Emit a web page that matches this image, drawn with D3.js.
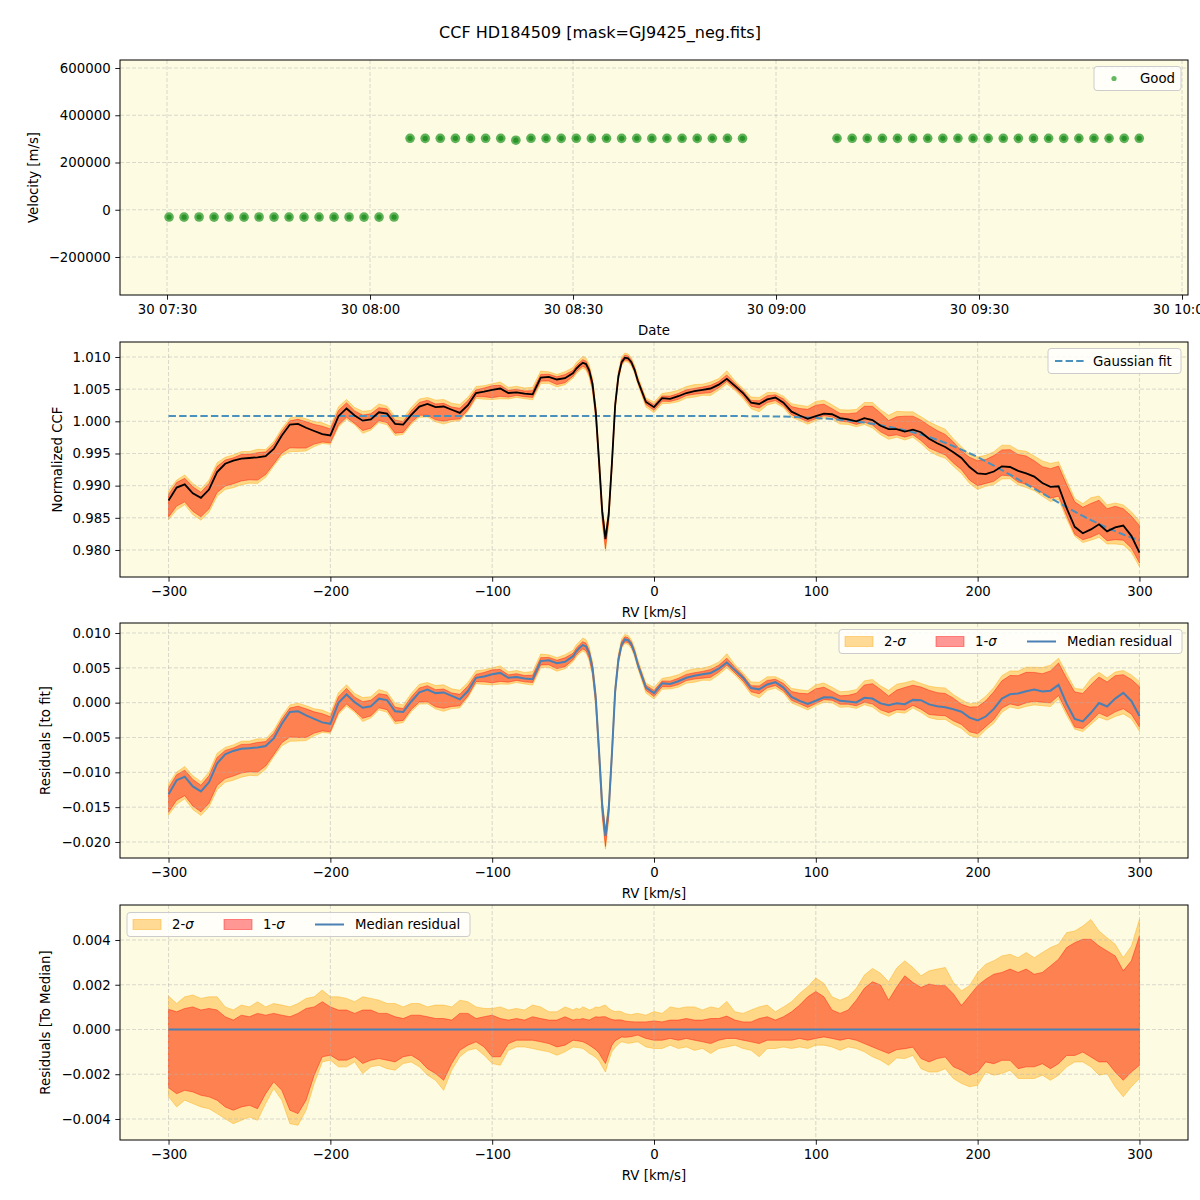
<!DOCTYPE html>
<html>
<head>
<meta charset="utf-8">
<script src="https://cdn.jsdelivr.net/npm/d3@7"></script>
<style>
  body { margin: 0; background: #fff; }
</style>
</head>
<body>
<script>
// ---------- data ----------

// panel 1: radial velocity per exposure
const obsDay = "2021-07-30";
const obsTimes = [
  "07:30:18","07:32:31","07:34:44","07:36:57","07:39:10","07:41:23","07:43:36","07:45:49",
  "07:48:02","07:50:15","07:52:28","07:54:41","07:56:54","07:59:07","08:01:20","08:03:33",
  "08:05:55","08:08:09","08:10:23","08:12:37","08:14:51","08:17:05","08:19:19","08:21:33",
  "08:23:47","08:26:01","08:28:15","08:30:29","08:32:43","08:34:57","08:37:11","08:39:25",
  "08:41:39","08:43:53","08:46:07","08:48:21","08:50:35","08:52:49","08:55:03",
  "09:09:01","09:11:15","09:13:29","09:15:43","09:17:57","09:20:11","09:22:25","09:24:39",
  "09:26:53","09:29:07","09:31:21","09:33:35","09:35:49","09:38:03","09:40:17","09:42:31",
  "09:44:45","09:46:59","09:49:13","09:51:27","09:53:41"
];
const velocities = [
  -30800,-31200,-30600,-31000,-30900,-31300,-30700,-31100,
  -30900,-31000,-30800,-31200,-30700,-31000,-31100,-30900,
  302400,302100,302600,302300,302000,302500,302200,294500,
  302400,302100,302300,302600,302000,302400,302200,302500,
  302100,302300,302400,302000,302200,302500,302300,
  302200,302400,302100,302500,302300,302000,302400,302200,
  302600,302100,302300,302400,302200,302000,302500,302300,
  302100,302400,302200,302300,302500
];
const timeTicks = ["07:30","08:00","08:30","09:00","09:30","10:00"];
const velTicks = [-200000, 0, 200000, 400000, 600000];

// panels 2-4: CCF on a radial-velocity grid [km/s]
const rv = [
  -300,-295,-290,-285,-280,-275,-270,-265,-260,-255,-250,-245,-240,-235,-230,-225,-220,-215,-210,-205,
  -200,-195,-190,-185,-180,-175,-170,-165,-160,-155,-150,-145,-140,-135,-130,-125,-120,-115,-110,-105,
  -100,-95,-90,-85,-80,-75,-70,-65,-60,-55,-50,
  -48,-46,-44,-42,-40,-38,-36,-34,-32,-30,-28,-26,-24,-22,-20,-18,-16,-14,-12,-10,
  -5,0,5,10,15,20,25,30,35,40,45,50,55,60,65,70,75,80,85,90,95,
  100,105,110,115,120,125,130,135,140,145,150,155,160,165,170,175,180,185,190,195,
  200,205,210,215,220,225,230,235,240,245,250,255,260,265,270,275,280,285,290,295,300
];
const ccfMedian = [
  0.9877,0.9897,0.9902,0.9888,0.9881,0.9894,0.9921,0.9934,0.9939,0.9942,0.9943,0.9944,0.9946,0.9957,0.9978,0.9995,0.9996,0.9990,0.9985,0.9980,
  0.9978,1.0008,1.0020,1.0009,1.0001,1.0003,1.0014,1.0012,0.9996,0.9995,1.0010,1.0023,1.0027,1.0022,1.0023,1.0018,1.0013,1.0025,1.0044,1.0046,
  1.0049,1.0051,1.0044,1.0045,1.0043,1.0042,1.0068,1.0069,1.0065,1.0067,1.0075,
  1.0082,1.0087,1.0091,1.0089,1.0079,1.0058,1.0015,0.9940,0.9860,0.9817,0.9855,0.9935,1.0025,1.0070,1.0092,1.0099,1.0098,1.0092,1.0080,1.0063,
  1.0030,1.0022,1.0036,1.0035,1.0039,1.0044,1.0047,1.0049,1.0051,1.0057,1.0066,1.0055,1.0044,1.0029,1.0027,1.0034,1.0037,1.0029,1.0015,1.0009,1.0004,
  1.0008,1.0012,1.0011,1.0005,1.0003,1.0000,1.0005,1.0002,0.9993,0.9988,0.9988,0.9984,0.9987,0.9983,0.9973,0.9966,0.9960,0.9952,0.9943,0.9929,
  0.9919,0.9918,0.9922,0.9930,0.9929,0.9923,0.9919,0.9914,0.9904,0.9898,0.9899,0.9865,0.9836,0.9826,0.9832,0.9840,0.9829,0.9835,0.9838,0.9822,0.9796
];
const gaussFit = [
  1.00083,1.00083,1.00083,1.00083,1.00083,1.00083,1.00083,1.00083,1.00083,1.00083,1.00083,1.00083,1.00083,1.00083,1.00083,1.00083,1.00083,1.00083,1.00083,1.00083,
  1.00083,1.00083,1.00083,1.00083,1.00083,1.00083,1.00083,1.00083,1.00083,1.00083,1.00083,1.00083,1.00083,1.00083,1.00083,1.00083,1.00083,1.00083,1.00083,1.00083,
  1.00083,1.00083,1.00083,1.00083,1.00083,1.00083,1.00083,1.00083,1.00083,1.00083,1.00083,
  1.00083,1.00083,1.00083,1.00083,1.00083,1.00083,1.00083,1.00083,1.00083,1.00083,1.00083,1.00083,1.00083,1.00083,1.00083,1.00083,1.00083,1.00083,1.00083,1.00083,
  1.00083,1.00083,1.00083,1.00083,1.00083,1.00083,1.00083,1.00083,1.00083,1.00083,1.00083,1.00083,1.00081,1.00080,1.00079,1.00078,1.00076,1.00073,1.00069,1.00065,1.00059,
  1.00052,1.00044,1.00035,1.00024,1.00012,0.99997,0.99980,0.99961,0.99940,0.99916,0.99890,0.99861,0.99830,0.99794,0.99755,0.99712,0.99665,0.99614,0.99560,0.99504,
  0.99445,0.99379,0.99310,0.99241,0.99170,0.99098,0.99025,0.98953,0.98880,0.98808,0.98735,0.98665,0.98595,0.98530,0.98465,0.98405,0.98345,0.98292,0.98240,0.98195,0.98150
];
// band edges relative to the median, in units of 1e-3
const hi2 = [
  1.5,1.16,1.46,1.54,1.39,1.46,1.46,1.01,0.87,1.09,1.01,1.24,1.01,1.16,1.09,1.01,1.16,1.39,1.46,1.76,
  1.46,1.46,1.39,1.24,1.46,1.39,1.31,1.16,1.16,1.01,1.16,1.16,1.01,1.09,1.09,1.01,1.31,1.24,1.01,0.94,
  0.94,1.01,0.87,0.94,0.87,1.09,1.01,0.79,0.79,1.01,0.87,
  0.95,0.90,1.01,0.95,0.87,0.92,1.01,0.98,1.05,1.09,0.95,0.85,0.80,0.82,0.79,0.72,0.68,0.66,0.70,0.72,
  0.64,0.80,0.72,1.01,0.94,1.01,1.01,0.87,1.01,0.94,1.25,0.79,0.72,0.87,1.01,1.09,0.79,1.01,1.24,1.61,1.91,
  2.30,2.06,1.46,1.31,1.46,1.84,2.43,2.73,2.51,2.13,2.75,3.07,2.77,2.40,2.62,2.70,2.77,2.10,1.73,1.96,
  2.55,2.92,3.07,3.29,3.36,3.21,3.44,3.21,3.44,3.66,3.81,4.33,4.40,4.62,4.92,4.40,4.10,3.81,3.21,3.73,4.92
];
const hi1 = [
  0.9,0.79,0.94,1.01,0.87,0.94,0.87,0.57,0.42,0.64,0.57,0.72,0.64,0.72,0.64,0.57,0.72,0.94,1.01,1.24,
  1.01,0.87,0.87,0.72,0.87,0.87,0.72,0.72,0.57,0.49,0.64,0.64,0.57,0.49,0.49,0.42,0.72,0.72,0.49,0.57,
  0.64,0.49,0.42,0.49,0.42,0.57,0.49,0.42,0.42,0.57,0.42,
  0.46,0.45,0.49,0.45,0.42,0.50,0.57,0.55,0.57,0.57,0.50,0.45,0.42,0.43,0.42,0.38,0.36,0.35,0.34,0.34,
  0.34,0.38,0.34,0.42,0.42,0.49,0.42,0.42,0.49,0.49,0.60,0.42,0.34,0.34,0.49,0.57,0.42,0.57,0.79,1.09,1.46,
  1.70,1.46,0.87,0.72,0.87,1.31,1.84,2.13,1.99,1.31,1.90,2.40,2.10,1.88,2.03,1.96,1.96,1.59,1.07,1.51,
  1.96,2.25,2.47,2.55,2.70,2.55,2.70,2.47,2.55,2.84,3.14,3.66,3.88,4.03,4.03,3.73,3.51,3.29,2.62,3.07,4.18
];
const lo1 = [
  -2.6,-2.87,-2.72,-2.79,-2.94,-3.01,-3.16,-3.46,-3.61,-3.46,-3.39,-3.54,-2.87,-2.34,-2.72,-3.61,-3.76,-3.16,-2.04,-1.22,
  -1.15,-1.37,-1.37,-1.22,-1.52,-1.37,-1.30,-1.37,-1.45,-1.22,-1.15,-1.37,-1.75,-1.97,-2.27,-1.52,-0.93,-0.70,-0.55,-0.78,
  -1.22,-1.22,-0.63,-0.48,-0.48,-0.48,-0.55,-0.63,-0.78,-0.70,-0.48,
  -0.50,-0.52,-0.55,-0.62,-0.70,-0.80,-0.90,-1.05,-1.30,-1.52,-1.10,-0.70,-0.50,-0.42,-0.33,-0.35,-0.34,-0.32,-0.28,-0.25,
  -0.40,-0.48,-0.48,-0.40,-0.48,-0.40,-0.48,-0.55,-0.63,-0.48,-0.40,-0.40,-0.48,-0.55,-0.63,-0.48,-0.48,-0.48,-0.48,-0.40,-0.48,
  -0.40,-0.33,-0.40,-0.48,-0.40,-0.48,-0.63,-0.78,-0.93,-1.07,-0.90,-0.86,-0.79,-1.30,-1.45,-1.30,-1.23,-1.67,-1.82,-2.04,
  -1.90,-1.45,-1.53,-1.38,-1.38,-1.75,-1.67,-1.67,-1.53,-1.75,-1.53,-1.16,-1.16,-1.01,-1.23,-1.45,-1.45,-1.90,-2.27,-1.90,-1.60
];
const lo2 = [
  -3.0,-3.46,-3.16,-3.31,-3.46,-3.54,-3.76,-3.99,-4.21,-4.06,-3.91,-4.06,-3.31,-2.64,-3.16,-4.21,-4.28,-3.61,-2.42,-1.45,
  -1.37,-1.67,-1.67,-1.45,-1.97,-1.67,-1.60,-1.75,-1.82,-1.52,-1.45,-1.67,-2.04,-2.27,-2.72,-1.82,-1.22,-0.93,-0.85,-1.15,
  -1.52,-1.60,-0.93,-0.78,-0.78,-0.85,-0.93,-1.00,-1.15,-1.00,-0.78,
  -0.80,-0.82,-0.85,-0.95,-1.07,-1.15,-1.25,-1.40,-1.65,-1.90,-1.40,-1.00,-0.80,-0.65,-0.55,-0.58,-0.62,-0.60,-0.57,-0.55,
  -0.78,-0.85,-0.85,-0.70,-0.85,-0.78,-0.93,-0.85,-1.07,-0.85,-0.78,-0.70,-0.85,-0.93,-1.22,-0.85,-0.85,-0.78,-0.85,-0.78,-0.85,
  -0.70,-0.70,-0.78,-0.93,-0.78,-0.85,-1.00,-1.22,-1.37,-1.60,-1.27,-1.30,-1.16,-1.75,-1.90,-1.90,-1.75,-2.19,-2.41,-2.56,
  -2.49,-1.90,-2.04,-1.97,-1.82,-2.19,-2.19,-2.19,-2.04,-2.27,-2.04,-1.67,-1.45,-1.45,-1.67,-2.04,-1.97,-2.56,-3.01,-2.56,-2.19
];
const rvTicks = [-300, -200, -100, 0, 100, 200, 300];
const ccfTicks = [0.980, 0.985, 0.990, 0.995, 1.000, 1.005, 1.010];
const resTicks = [-0.020, -0.015, -0.010, -0.005, 0.000, 0.005, 0.010];
const medTicks = [-0.004, -0.002, 0.000, 0.002, 0.004];

// ---------- layout ----------
const L = 120, R = 1188, W = R - L, H = 235;
const tops = [60, 342, 623, 905];
const BG = "#fdfbe1";
const FONT = "DejaVu Sans, sans-serif";
const ORANGE = "orange", RED = "red";
const LINE_BLUE = "#4a80b4", FIT_BLUE = "#4b91bd";

const svg = d3.select("body").append("svg")
  .attr("width", 1200).attr("height", 1200)
  .style("background", "#fff")
  .attr("font-family", FONT);

function panel(top) {
  const g = svg.append("g").attr("transform", `translate(${L},${top})`);
  g.append("rect").attr("width", W).attr("height", H).attr("fill", BG);
  return { g, fills: g.append("g"), grid: g.append("g"), lines: g.append("g"), front: g.append("g") };
}

function gridAndAxes(p, x, y, xTicks, yTicks, xFmt, yFmt) {
  p.grid.selectAll("line.v").data(xTicks).join("line").attr("class", "v")
    .attr("x1", d => x(d)).attr("x2", d => x(d)).attr("y1", 0).attr("y2", H);
  p.grid.selectAll("line.h").data(yTicks).join("line").attr("class", "h")
    .attr("x1", 0).attr("x2", W).attr("y1", d => y(d)).attr("y2", d => y(d));
  p.grid.selectAll("line")
    .attr("stroke", "#b0b0b0").attr("stroke-opacity", 0.6)
    .attr("stroke-width", 0.8).attr("stroke-dasharray", "4,2");

  const ax = p.front.append("g").attr("transform", `translate(0,${H})`)
    .call(d3.axisBottom(x).tickValues(xTicks).tickFormat(xFmt).tickSize(4.7).tickPadding(4.7).tickSizeOuter(0));
  const ay = p.front.append("g")
    .call(d3.axisLeft(y).tickValues(yTicks).tickFormat(yFmt).tickSize(4.7).tickPadding(4.7).tickSizeOuter(0));
  [ax, ay].forEach(a => {
    a.select(".domain").remove();
    a.attr("font-family", FONT).attr("font-size", 13.3);
    a.selectAll("line").attr("stroke-width", 0.9);
  });
  p.front.append("rect").attr("width", W).attr("height", H)
    .attr("fill", "none").attr("stroke", "#000").attr("stroke-width", 1);
}

function labels(top, xLabel, yLabel, yLabelX) {
  svg.append("text").attr("x", L + W / 2).attr("y", top + H + 35).attr("dy", "0.35em")
    .attr("text-anchor", "middle").attr("font-size", 13.3).text(xLabel);
  svg.append("text")
    .attr("transform", `translate(${yLabelX},${top + H / 2}) rotate(-90)`)
    .attr("dy", "0.35em").attr("text-anchor", "middle").attr("font-size", 13.3).text(yLabel);
}

function legendBox(p, x0, y0, w, h) {
  p.front.append("rect").attr("x", x0).attr("y", y0).attr("width", w).attr("height", h).attr("rx", 3)
    .attr("fill", "#fff").attr("fill-opacity", 0.8).attr("stroke", "#cccccc").attr("stroke-width", 1);
}

function sigmaLegend(p, x0, y0) {
  legendBox(p, x0, y0, 343, 24);
  const cy = y0 + 12;
  [[ORANGE, "2-", 0], [RED, "1-", 91]].forEach(([c, lab, dx]) => {
    p.front.append("rect").attr("x", x0 + 6 + dx).attr("y", cy - 5).attr("width", 28).attr("height", 10)
      .attr("fill", c).attr("fill-opacity", 0.4).attr("stroke", c).attr("stroke-opacity", 0.4);
    const t = p.front.append("text").attr("x", x0 + 45 + dx).attr("y", cy).attr("dy", "0.35em")
      .attr("font-size", 13.3);
    t.append("tspan").text(lab);
    t.append("tspan").attr("font-style", "italic").text("σ");
  });
  p.front.append("line").attr("x1", x0 + 188).attr("x2", x0 + 217).attr("y1", cy).attr("y2", cy)
    .attr("stroke", LINE_BLUE).attr("stroke-width", 2);
  p.front.append("text").attr("x", x0 + 228).attr("y", cy).attr("dy", "0.35em")
    .attr("font-size", 13.3).text("Median residual");
}

function bands(p, x, y, base) {
  const a = (lo, hi) => d3.area()
    .x((d, i) => x(rv[i]))
    .y0((d, i) => y(base[i] + lo[i] * 1e-3))
    .y1((d, i) => y(base[i] + hi[i] * 1e-3));
  p.fills.append("path").datum(rv).attr("d", a(lo2, hi2))
    .attr("fill", ORANGE).attr("fill-opacity", 0.4)
    .attr("stroke", ORANGE).attr("stroke-opacity", 0.4).attr("stroke-width", 1);
  p.fills.append("path").datum(rv).attr("d", a(lo1, hi1))
    .attr("fill", RED).attr("fill-opacity", 0.4)
    .attr("stroke", RED).attr("stroke-opacity", 0.4).attr("stroke-width", 1);
}

// title
svg.append("text").attr("x", 600).attr("y", 32).attr("dy", "0.35em").attr("text-anchor", "middle")
  .attr("font-size", 16).text("CCF HD184509 [mask=GJ9425_neg.fits]");

// ---------- panel 1: velocities ----------
const parseT = d3.timeParse("%Y-%m-%d %H:%M:%S");
const parseM = d3.timeParse("%Y-%m-%d %H:%M");
const p1 = panel(tops[0]);
const xT = d3.scaleTime()
  .domain([parseT(obsDay + " 07:23:03"), parseT(obsDay + " 10:00:53")]).range([0, W]);
const yV = d3.scaleLinear().domain([-360800, 633900]).range([H, 0]);
gridAndAxes(p1, xT, yV, timeTicks.map(t => parseM(obsDay + " " + t)), velTicks,
  d3.timeFormat("%d %H:%M"), d3.format("d"));
const pts = obsTimes.map((t, i) => ({ t: parseT(obsDay + " " + t), v: velocities[i] }));
p1.lines.selectAll("circle.o").data(pts).join("circle").attr("class", "o")
  .attr("cx", d => xT(d.t)).attr("cy", d => yV(d.v)).attr("r", 4.8)
  .attr("fill", "rgb(95,178,88)");
p1.lines.selectAll("circle.c").data(pts).join("circle").attr("class", "c")
  .attr("cx", d => xT(d.t)).attr("cy", d => yV(d.v)).attr("r", 2.6)
  .attr("fill", "rgb(42,148,40)");
legendBox(p1, W - 94, 6.5, 87, 24);
p1.front.append("circle").attr("cx", W - 74).attr("cy", 18.5).attr("r", 2.6).attr("fill", "rgb(100,185,95)");
p1.front.append("text").attr("x", W - 48).attr("y", 18.5).attr("dy", "0.35em").attr("font-size", 13.3).text("Good");
labels(tops[0], "Date", "Velocity [m/s]", 33);

// ---------- panel 2: normalized CCF ----------
const xRV = d3.scaleLinear().domain([-330, 330]).range([0, W]);
const p2 = panel(tops[1]);
const yC = d3.scaleLinear().domain([0.97580, 1.01233]).range([H, 0]);
bands(p2, xRV, yC, ccfMedian);
gridAndAxes(p2, xRV, yC, rvTicks, ccfTicks, d3.format("d"), d3.format(".3f"));
p2.lines.append("path").datum(rv)
  .attr("d", d3.line().x((d, i) => xRV(rv[i])).y((d, i) => yC(gaussFit[i])))
  .attr("fill", "none").attr("stroke", FIT_BLUE).attr("stroke-width", 2).attr("stroke-dasharray", "7.4,3.2");
p2.lines.append("path").datum(rv)
  .attr("d", d3.line().x((d, i) => xRV(rv[i])).y((d, i) => yC(ccfMedian[i])))
  .attr("fill", "none").attr("stroke", "#000").attr("stroke-width", 1.8);
legendBox(p2, W - 140, 6.5, 133, 25);
p2.front.append("line").attr("x1", W - 133).attr("x2", W - 104).attr("y1", 19).attr("y2", 19)
  .attr("stroke", FIT_BLUE).attr("stroke-width", 2).attr("stroke-dasharray", "7.4,3.2");
p2.front.append("text").attr("x", W - 95).attr("y", 19).attr("dy", "0.35em").attr("font-size", 13.3).text("Gaussian fit");
labels(tops[1], "RV [km/s]", "Normalized CCF", 57);

// ---------- panel 3: residuals to fit ----------
const residual = ccfMedian.map((v, i) => v - gaussFit[i]);
const p3 = panel(tops[2]);
const yR = d3.scaleLinear().domain([-0.022297, 0.011435]).range([H, 0]);
bands(p3, xRV, yR, residual);
gridAndAxes(p3, xRV, yR, rvTicks, resTicks, d3.format("d"), d3.format(".3f"));
p3.lines.append("path").datum(rv)
  .attr("d", d3.line().x((d, i) => xRV(rv[i])).y((d, i) => yR(residual[i])))
  .attr("fill", "none").attr("stroke", LINE_BLUE).attr("stroke-width", 2);
sigmaLegend(p3, 719, 6.5);
labels(tops[2], "RV [km/s]", "Residuals [to fit]", 45);

// ---------- panel 4: residuals to median ----------
const zero = rv.map(() => 0);
const p4 = panel(tops[3]);
const yM = d3.scaleLinear().domain([-0.004939, 0.005564]).range([H, 0]);
bands(p4, xRV, yM, zero);
gridAndAxes(p4, xRV, yM, rvTicks, medTicks, d3.format("d"), d3.format(".3f"));
p4.lines.append("path").datum(rv)
  .attr("d", d3.line().x((d, i) => xRV(rv[i])).y((d, i) => yM(zero[i])))
  .attr("fill", "none").attr("stroke", LINE_BLUE).attr("stroke-width", 2);
sigmaLegend(p4, 7, 7.5);
labels(tops[3], "RV [km/s]", "Residuals [To Median]", 45);
</script>
</body>
</html>
